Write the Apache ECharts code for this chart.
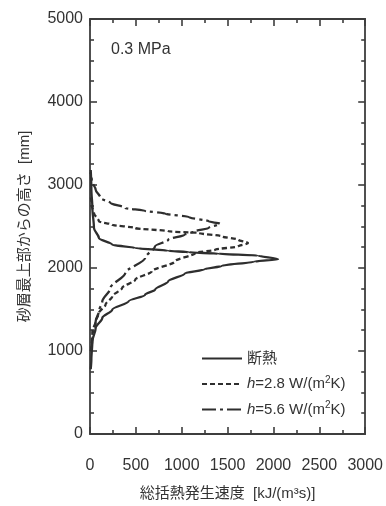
<!DOCTYPE html>
<html><head><meta charset="utf-8">
<script src="https://cdn.jsdelivr.net/npm/echarts@6/dist/echarts.min.js"></script>
<style>html,body{margin:0;padding:0;background:#fff}#c{width:386px;height:506px}</style>
</head><body><div id="c"></div>
<script>
// Series names (legend)
const seriesNames = ['断熱', 'h=2.8', 'h=5.6'];
// [heat generation rate kJ/(m3 s), height mm], bottom to top
const adiabatic = [[8,780],[15,900],[26,1116],[62,1277],[134,1398],[242,1498],[421,1598],[601,1679],[709,1739],[853,1839],[1033,1935],[1250,1985],[1435,2025],[1795,2078],[2050,2105],[1831,2150],[1400,2172],[1076,2189],[853,2209],[493,2241],[242,2281],[97,2362],[43,2482],[26,2723],[15,2950],[8,3180]];
const h28 = [[10,1000],[26,1236],[62,1357],[97,1458],[169,1558],[242,1658],[350,1759],[493,1859],[673,1960],[925,2080],[1148,2181],[1364,2221],[1615,2261],[1723,2300],[1615,2341],[1435,2382],[1184,2422],[853,2442],[493,2482],[242,2522],[97,2562],[43,2663],[20,2750],[10,2850]];
const h56 = [[10,1000],[30,1200],[62,1357],[97,1478],[134,1598],[223,1759],[385,1940],[601,2121],[709,2261],[853,2341],[1033,2402],[1148,2442],[1292,2482],[1418,2534],[1292,2562],[1076,2615],[824,2655],[600,2690],[385,2723],[223,2784],[115,2843],[62,2944],[20,3050],[5,3150]];
const xMin = 0, xMax = 3000, xStep = 500;
const yMin = 0, yMax = 5000, yStep = 1000;

const FONT = '"Liberation Sans", Arial, "Noto Sans CJK JP", sans-serif';
const AX = '#3d3d3d';
const TXT = '#333';

const chart = echarts.init(document.getElementById('c'), null, {renderer: 'canvas'});

function xAx(pos, main) {
  return {
    type: 'value', position: pos, min: xMin, max: xMax, interval: xStep,
    axisLine: {show: true, onZero: false, lineStyle: {color: AX, width: 1.8}},
    axisTick: {show: true, inside: true, length: 7, lineStyle: {color: AX, width: 1.6}},
    minorTick: {show: true, splitNumber: 2, length: 4, lineStyle: {color: AX, width: 1.6}},
    splitLine: {show: false},
    axisLabel: {show: main, margin: 24, fontSize: 16, color: TXT, fontFamily: FONT, formatter: v => String(v)},
    name: main ? '総括熱発生速度  [kJ/(m³s)]' : '',
    nameLocation: 'middle', nameGap: 52,
    nameTextStyle: {fontSize: 15, color: TXT, fontFamily: FONT}
  };
}
function yAx(pos, main) {
  return {
    type: 'value', position: pos, min: yMin, max: yMax, interval: yStep,
    axisLine: {show: true, onZero: false, lineStyle: {color: AX, width: 1.8}},
    axisTick: {show: true, inside: true, length: 7, lineStyle: {color: AX, width: 1.6}},
    minorTick: {show: true, splitNumber: 4, length: 4, lineStyle: {color: AX, width: 1.6}},
    splitLine: {show: false},
    axisLabel: {show: main, margin: 7, fontSize: 16, color: TXT, fontFamily: FONT, formatter: v => String(v)},
    name: main ? '砂層最上部からの高さ  [mm]' : '',
    nameLocation: 'middle', nameGap: 58, nameRotate: 90,
    nameTextStyle: {fontSize: 15, color: TXT, fontFamily: FONT}
  };
}

const lineCol = '#2e2e2e';
function ser(name, data, type) {
  return {
    name: name, type: 'line', data: data, xAxisIndex: 0, yAxisIndex: 0,
    symbol: 'none', smooth: 0.3, smoothMonotone: 'y', animation: false,
    lineStyle: {color: lineCol, width: 2.3, type: type},
    itemStyle: {color: lineCol}
  };
}

chart.setOption({
  animation: false,
  backgroundColor: '#fff',
  grid: {left: 90, right: 18, top: 19, bottom: 72, containLabel: false},
  title: {text: '0.3 MPa', left: 106, top: 37, textStyle: {fontSize: 16, fontWeight: 'normal', color: TXT, fontFamily: FONT}},
  xAxis: [xAx('bottom', true), xAx('top', false)],
  yAxis: [yAx('left', true), yAx('right', false)],
  legend: {
    orient: 'vertical', left: 196, top: 346, itemWidth: 40, itemHeight: 14, itemGap: 9,
    itemStyle: {opacity: 0, color: 'transparent', borderColor: 'transparent', borderWidth: 0},
    textStyle: {fontSize: 15, color: TXT, fontFamily: FONT,
      rich: {i: {fontStyle: 'italic', fontSize: 15, color: TXT, fontFamily: FONT},
             s: {fontSize: 10, verticalAlign: 'top', padding: [0,0,8,0], color: TXT, fontFamily: FONT},
             n: {fontSize: 15, color: TXT, fontFamily: FONT}}},
    formatter: function (name) {
      if (name === '断熱') return '{n|断熱}';
      return '{i|h}{n|' + name.slice(1) + ' W/(m}{s|2}{n|K)}';
    },
    data: seriesNames
  },
  series: [
    ser(seriesNames[0], adiabatic, 'solid'),
    ser(seriesNames[1], h28, [5, 3]),
    ser(seriesNames[2], h56, [14, 4, 3, 4])
  ]
});
</script></body></html>
